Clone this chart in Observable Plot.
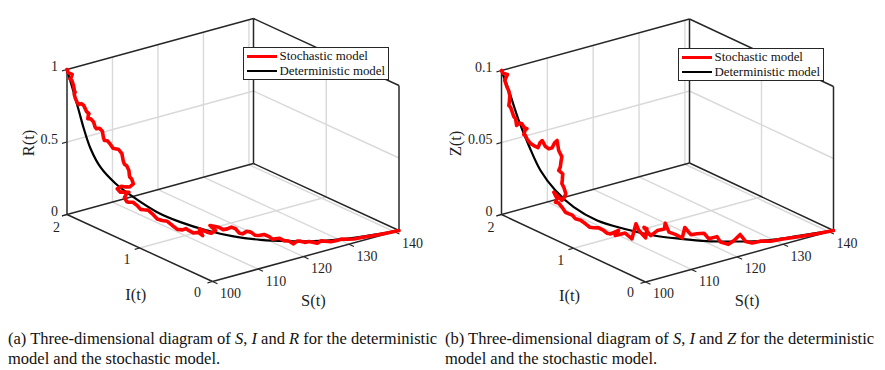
<!DOCTYPE html>
<html><head><meta charset="utf-8">
<script src="https://cdn.jsdelivr.net/npm/d3@7"></script>
<script src="https://cdn.jsdelivr.net/npm/@observablehq/plot@0.6"></script>
<style>
html,body{margin:0;padding:0;background:#fff;}
#wrap{position:relative;width:885px;height:370px;overflow:hidden;font-family:"Liberation Serif",serif;color:#1a1a1a;}
.panel{position:absolute;top:0;}
.legend{position:absolute;background:#fff;border:1.4px solid #262626;box-sizing:border-box;width:146px;height:33px;font-size:12.9px;line-height:14.5px;color:#111;white-space:nowrap;}
.legend div{position:absolute;left:3px;display:flex;align-items:center;height:14px;}
.legend i{display:block;width:30px;margin-right:3px;}
.cap{position:absolute;top:328.5px;font-size:16.5px;line-height:20px;white-space:nowrap;color:#111;}
</style></head><body><div id="wrap"></div>
<script>
// Panel (a): S, I, R
const stochS_a=[100,100.1,100.1,100.66,100.5,100.35,100.6,100.8,100.9,101,100.85,101,101.3,101.47,101.8,102.09,102.35,102.6,102.55,102.5,102.75,102.97,103.05,103.13,103.3,103.46,103.53,103.6,103.78,103.96,104.11,104.26,104.4,104.55,104.6,104.64,104.73,104.82,104.84,104.86,104.93,105,104.84,104.68,104.5,104.33,104.46,104.6,104.82,104.73,104.64,104.73,104.82,105,105.2,105.38,105.55,105.76,105.97,106.25,106.53,106.85,107.16,107.48,107.8,108.05,108.3,108.65,109,109.35,109.1,109.71,110.15,110.6,110,111,111.45,111.9,112.4,112.9,113.35,113.8,114.4,115,115.55,116.1,116.85,117.6,118.1,118.6,119.25,119.9,120.7,121.5,122.1,122.7,123.4,124.1,125.6,126.3,127,128,129.1,130,131,132.2,133.4,136,138.4,141];
const stochI_a=[2,1.99,1.99,1.97,1.975,1.98,1.97,1.96,1.955,1.95,1.955,1.95,1.94,1.93,1.915,1.9,1.88,1.86,1.865,1.87,1.845,1.82,1.805,1.79,1.76,1.73,1.72,1.71,1.68,1.65,1.625,1.6,1.565,1.53,1.515,1.5,1.475,1.45,1.445,1.44,1.42,1.4,1.445,1.49,1.535,1.58,1.545,1.51,1.45,1.475,1.5,1.475,1.45,1.405,1.36,1.325,1.29,1.245,1.2,1.15,1.1,1.05,1,.95,.9,.87,.84,.8,.76,.72,.75,.68,.65,.62,.66,.6,.57,.54,.515,.49,.47,.45,.43,.41,.39,.37,.345,.32,.31,.3,.28,.26,.245,.23,.22,.21,.195,.18,.16,.15,.14,.125,.11,.1,.085,.07,.055,.03,.015,0];
const stochR_a=[1,.981,.979,.967,.945,.937,.925,.891,.857,.846,.835,.807,.773,.762,.769,.757,.719,.704,.697,.669,.672,.654,.622,.613,.622,.607,.565,.546,.55,.53,.508,.509,.511,.489,.443,.422,.417,.389,.355,.345,.338,.307,.276,.268,.264,.237,.22,.228,.239,.226,.192,.169,.17,.179,.165,.145,.149,.155,.138,.112,.11,.114,.094,.076,.081,.095,.085,.075,.086,.07,.112,.1,.096,.117,.148,.141,.128,.136,.15,.14,.112,.106,.123,.117,.096,.094,.1,.084,.065,.066,.068,.051,.045,.022,.038,.035,.024,.028,.008,.02,.014,.005,.008,.013,.006,.001,.002,.001,0,0];
const detS_a=[100,100.66,101.47,102.09,102.77,103.36,104.26,105.02,106.23,107.68,109.71,112.62,116.31,120.42,124.92,129.74,134.65,141];
const detI_a=[2,1.97,1.93,1.9,1.85,1.75,1.6,1.4,1.15,.92,.68,.5,.36,.25,.17,.1,.04,0];
const detR_a=[1,.879,.721,.598,.466,.355,.27,.215,.159,.131,.111,.087,.064,.045,.025,.013,.009,0];
// Panel (b): S, I, Z
const stochS_b=[100,100.14,100.67,100.4,100.6,100.77,100.87,100.84,100.81,100.95,101.1,101.3,101.5,101.57,101.75,101.93,102.08,102.24,102.13,102.03,102.13,102.24,102.37,102.5,102.63,102.69,102.75,102.85,102.95,103.04,103.1,103.17,103.21,103.26,103.25,103.25,103.21,103.3,103.29,103.28,103.32,103.35,103.31,103.28,103.09,103.17,103.14,103.21,103.28,103.35,103.42,103.5,103.58,103.76,103.95,104.1,104.25,104.55,104.85,105.07,105.3,105.9,105.65,106.4,107.1,107.5,107.8,108.5,108.65,108.3,109,109.8,110.7,110.9,111.4,112.3,113.2,113.6,114.6,115.6,116.7,117.5,118.9,119.5,120.9,121.9,123,124,125.2,126.7,128.6,131,134.4,137.7,141];
const stochI_b=[2,1.99,1.96,1.98,1.965,1.95,1.94,1.945,1.95,1.935,1.92,1.91,1.9,1.89,1.865,1.84,1.815,1.79,1.805,1.82,1.805,1.79,1.75,1.71,1.66,1.635,1.61,1.57,1.53,1.49,1.46,1.43,1.41,1.37,1.38,1.39,1.41,1.36,1.365,1.37,1.345,1.32,1.345,1.37,1.47,1.43,1.45,1.41,1.37,1.325,1.28,1.24,1.2,1.14,1.08,1.035,.99,.94,.89,.855,.82,.75,.78,.69,.64,.61,.59,.54,.53,.55,.5,.46,.42,.42,.4,.37,.33,.32,.3,.28,.25,.235,.21,.2,.18,.165,.15,.135,.125,.105,.085,.065,.04,.02,0];
const stochZ_b=[.1,.0982,.0976,.0933,.0892,.0866,.0832,.0785,.0762,.0752,.0719,.0688,.0676,.0631,.0652,.0651,.0628,.0626,.0614,.058,.0578,.0556,.0532,.0525,.0521,.0562,.0581,.0548,.054,.0556,.0598,.062,.0555,.0521,.0487,.0444,.0416,.0404,.0362,.0333,.0312,.0274,.0238,.0217,.0252,.0215,.0187,.019,.0171,.0144,.0143,.0143,.0126,.0129,.0115,.0102,.0108,.0116,.0107,.0094,.0095,.0131,.0091,.0122,.0088,.0196,.0151,.0106,.017,.0178,.0126,.0164,.0176,.0215,.0153,.0137,.0113,.0185,.0131,.0133,.0134,.0092,.0101,.006,.0037,.0059,.0094,.004,.0021,.0026,.0014,.0013,.0006,.0001,0];
const detS_b=[100,100.81,101.73,102.34,102.7,103.14,103.52,104.38,106.26,109.35,112.97,117.23,120.65,125.44,129.24,134.43,141];
const detI_b=[2,1.95,1.87,1.77,1.63,1.45,1.22,.95,.7,.48,.34,.24,.18,.12,.08,.04,0];
const detZ_b=[.1,.0866,.0668,.0513,.0369,.0268,.0203,.0166,.0151,.0129,.0107,.0077,.0059,.0033,.0021,.0013,0];
// Axes
const sTicks=[100,110,120,130,140];
const iTicks=[0,1,2];
const rTicks=[0,0.5,1];
const zTicks=[0,0.05,0.1];
const zTickLabels=["0","0.05","0.1"];
const sMin=100,sMax=141,iMax=2;

function table(S,I,Z){return S.map((s,k)=>({S:s,I:I[k],Z:Z[k]}));}

function panel(o){
  const P=(S,I,Z)=>({x:o.ox+o.kx*(S-sMin)-o.ix*I, y:o.oy-o.ky*(S-sMin)-o.iy*I-o.zk*Z});
  const zT=o.zMax;
  const seg=(a,b)=>{const p=P(...a),q=P(...b);return {x1:p.x,y1:p.y,x2:q.x,y2:q.y};};
  const grid=[];
  sTicks.slice(1).forEach(s=>{grid.push(seg([s,iMax,0],[s,iMax,zT]));grid.push(seg([s,0,0],[s,iMax,0]));});
  grid.push(seg([sMin,1,0],[sMax,1,0]));
  grid.push(seg([sMax,1,0],[sMax,1,zT]));
  o.zt.slice(1,-1).forEach(z=>{grid.push(seg([sMin,iMax,z],[sMax,iMax,z]));grid.push(seg([sMax,iMax,z],[sMax,0,z]));});
  const box=[
    seg([sMin,iMax,0],[sMin,iMax,zT]),seg([sMin,iMax,zT],[sMax,iMax,zT]),seg([sMax,iMax,zT],[sMax,0,zT]),
    seg([sMax,0,zT],[sMax,0,0]),seg([sMax,iMax,0],[sMax,iMax,zT]),seg([sMin,iMax,0],[sMax,iMax,0]),
    seg([sMax,iMax,0],[sMax,0,0]),seg([sMin,iMax,0],[sMin,0,0]),seg([sMin,0,0],[sMax,0,0])
  ];
  const ticks=[];
  sTicks.forEach(s=>{const p=P(s,0,0);ticks.push({x1:p.x,y1:p.y,x2:p.x+5,y2:p.y+2.3});});
  iTicks.forEach(i=>{const p=P(sMin,i,0);ticks.push({x1:p.x,y1:p.y,x2:p.x-5,y2:p.y+1.4});});
  o.zt.forEach(z=>{const p=P(sMin,iMax,z);ticks.push({x1:p.x,y1:p.y,x2:p.x-5,y2:p.y+1.4});});
  const pos=(f)=>({x:d=>f(d).x,y:d=>f(d).y});
  const font={fontFamily:"Liberation Serif",fill:"#1f1f1f"};
  const stoch=table(...o.stoch),det=table(...o.det);
  const linkOpt=(stroke,w)=>({x1:"x1",y1:"y1",x2:"x2",y2:"y2",stroke,strokeWidth:w});
  const svg=Plot.plot({
    width:442,height:322,margin:0,
    x:{domain:[0,442],range:[0,442],axis:null},
    y:{domain:[0,322],range:[0,322],axis:null},
    style:{background:"transparent",overflow:"visible"},
    marks:[
      Plot.link(grid,linkOpt("#d9d9d9",1.4)),
      Plot.link(box,linkOpt("#262626",1.5)),
      Plot.link(ticks,linkOpt("#262626",1.1)),
      Plot.line(det,{x:d=>P(d.S,d.I,d.Z).x,y:d=>P(d.S,d.I,d.Z).y,stroke:"#000",strokeWidth:2.2,curve:"catmull-rom"}),
      Plot.line(stoch,{x:d=>P(d.S,d.I,d.Z).x,y:d=>P(d.S,d.I,d.Z).y,stroke:"#ff0000",strokeWidth:3.6,strokeLinejoin:"round"}),
      Plot.text(sTicks,{...pos(s=>P(s,0,0)),text:d=>String(d),dx:18,dy:12,fontSize:14,...font}),
      Plot.text(iTicks,{x:i=>P(sMin,i,0).x-15+2.25*i,y:i=>P(sMin,i,0).y+11+i,text:d=>String(d),fontSize:14,...font}),
      Plot.text(o.zt,{...pos(z=>P(sMin,iMax,z)),text:(d,k)=>o.ztl[k],textAnchor:"end",dx:-9,dy:-2.5,fontSize:14,...font}),
      Plot.text([o.zName],{x:()=>P(sMin,iMax,0).x+o.zdx,y:()=>P(sMin,iMax,zT/2).y+1,text:d=>d,rotate:-90,fontSize:16.5,...font}),
      Plot.text(["I(t)"],{x:()=>P(sMin,1,0).x-4,y:()=>P(sMin,1,0).y+47,text:d=>d,fontSize:16.5,...font}),
      Plot.text(["S(t)"],{x:()=>P(120,0,0).x+10,y:()=>P(120,0,0).y+44,text:d=>d,fontSize:16.5,...font})
    ]
  });
  const host=document.createElement("div");
  host.className="panel";host.style.left=o.left+"px";
  host.appendChild(svg);
  const lg=document.createElement("div");
  lg.className="legend";lg.style.left=o.lgx+"px";lg.style.top=o.lgy+"px";
  lg.innerHTML='<div style="top:2px"><i style="height:2.2px;background:#f00"></i>Stochastic model</div><div style="top:16.5px"><i style="height:2px;background:#000"></i>Deterministic model</div>';
  host.appendChild(lg);
  document.getElementById("wrap").appendChild(host);
}

panel({left:0,ox:212,oy:281,kx:186.5/41,ky:51/41,ix:72.75,iy:33.5,zk:145,zMax:1,zt:rTicks,ztl:rTicks.map(String),zName:"R(t)",zdx:-38.5,
  stoch:[stochS_a,stochI_a,stochR_a],det:[detS_a,detI_a,detR_a],lgx:242.5,lgy:46.5});
panel({left:440,ox:205,oy:281.5,kx:188/41,ky:51.5/41,ix:72,iy:33.75,zk:1440,zMax:.1,zt:zTicks,ztl:zTickLabels,zName:"Z(t)",zdx:-46,
  stoch:[stochS_b,stochI_b,stochZ_b],det:[detS_b,detI_b,detZ_b],lgx:237.5,lgy:47.5});

const wrap=document.getElementById("wrap");
[[8,"(a)","R"],[445,"(b)","Z"]].forEach(([x,t,v])=>{
  const c=document.createElement("div");c.className="cap";c.style.left=x+"px";
  c.innerHTML=`${t} Three-dimensional diagram of <i>S</i>, <i>I</i> and <i>${v}</i> for the deterministic<br>model and the stochastic model.`;
  wrap.appendChild(c);
});
</script></body></html>
